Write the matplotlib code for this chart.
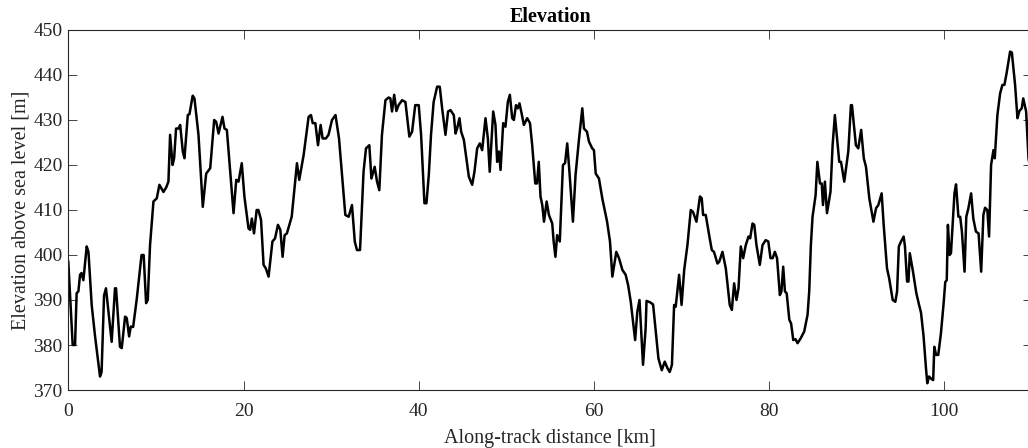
import matplotlib
matplotlib.use("Agg")
import matplotlib.pyplot as plt

distance_km = [
    0.0, 0.5, 0.77, 0.95, 1.15, 1.34, 1.5, 1.72, 2.1, 2.3, 2.67, 3.05, 3.62, 3.8, 4.08, 4.3,
    4.95, 5.33, 5.45, 5.9, 6.1, 6.48, 6.67, 6.94, 7.13, 7.4, 7.8, 8.36, 8.6, 8.88, 9.07, 9.33,
    9.72, 10.1, 10.4, 10.86, 11.17, 11.43, 11.62, 11.9, 12.08, 12.3, 12.57, 12.77, 13.07, 13.26,
    13.64, 13.83, 14.2, 14.4, 14.86, 15.35, 15.74, 15.9, 16.2, 16.65, 16.88, 17.15, 17.6, 17.83,
    18.1, 18.55, 18.86, 19.17, 19.43, 19.8, 20.1, 20.57, 20.76, 20.95, 21.2, 21.5, 21.7, 22.0,
    22.29, 22.55, 22.86, 23.3, 23.6, 23.93, 24.2, 24.46, 24.69, 24.95, 25.5, 26.1, 26.36, 26.86,
    27.43, 27.7, 27.9, 28.2, 28.5, 28.8, 29.03, 29.4, 29.7, 30.1, 30.5, 30.9, 31.24, 31.62, 32.0,
    32.38, 32.7, 32.95, 33.3, 33.7, 33.98, 34.36, 34.6, 34.97, 35.24, 35.5, 35.8, 36.2, 36.57,
    36.76, 36.95, 37.2, 37.45, 37.7, 38.1, 38.48, 38.93, 39.24, 39.6, 40.0, 40.27, 40.65, 40.88,
    41.15, 41.4, 41.7, 42.1, 42.4, 42.67, 43.05, 43.35, 43.62, 44.0, 44.2, 44.38, 44.65, 44.84,
    45.15, 45.72, 46.1, 46.36, 46.67, 46.97, 47.24, 47.62, 47.89, 48.1, 48.5, 48.76, 48.95, 49.15,
    49.34, 49.64, 49.9, 50.17, 50.4, 50.67, 50.86, 51.1, 51.3, 51.5, 51.74, 52.0, 52.38, 52.7,
    52.95, 53.3, 53.5, 53.7, 53.9, 54.1, 54.3, 54.6, 54.86, 55.24, 55.4, 55.6, 55.8, 56.1, 56.46,
    56.7, 56.95, 57.2, 57.6, 57.9, 58.3, 58.67, 58.86, 59.2, 59.43, 59.8, 60.0, 60.2, 60.57, 60.95,
    61.26, 61.5, 61.83, 62.1, 62.55, 62.86, 63.24, 63.62, 63.9, 64.2, 64.7, 64.95, 65.2, 65.6,
    65.9, 66.0, 66.4, 66.75, 67.05, 67.36, 67.74, 68.08, 68.4, 68.65, 68.9, 69.15, 69.33, 69.72,
    70.0, 70.3, 70.67, 71.05, 71.3, 71.7, 72.1, 72.3, 72.46, 72.76, 73.15, 73.45, 73.7, 74.1, 74.3,
    74.67, 75.05, 75.5, 75.74, 76.0, 76.27, 76.5, 76.76, 77.03, 77.33, 77.64, 77.83, 78.1, 78.3,
    78.55, 78.93, 79.24, 79.6, 79.9, 80.15, 80.4, 80.65, 80.9, 81.22, 81.4, 81.6, 81.8, 82.0, 82.3,
    82.5, 82.75, 83.0, 83.24, 83.6, 84.0, 84.38, 84.57, 84.76, 84.95, 85.3, 85.5, 85.8, 86.0,
    86.14, 86.36, 86.6, 87.0, 87.24, 87.5, 88.0, 88.2, 88.57, 89.03, 89.33, 89.45, 89.9, 90.17,
    90.5, 90.8, 91.05, 91.43, 91.9, 92.2, 92.46, 92.84, 93.07, 93.45, 93.7, 94.1, 94.4, 94.6, 94.8,
    95.05, 95.35, 95.5, 95.74, 95.9, 96.05, 96.4, 96.8, 97.1, 97.33, 97.62, 97.9, 98.05, 98.25,
    98.55, 98.72, 98.85, 99.05, 99.3, 99.6, 99.9, 100.1, 100.27, 100.4, 100.6, 100.75, 101.15,
    101.33, 101.6, 101.8, 102.0, 102.3, 102.5, 102.74, 103.05, 103.3, 103.6, 103.9, 104.2, 104.45,
    104.64, 104.9, 105.1, 105.33, 105.6, 105.75, 106.05, 106.36, 106.62, 106.85, 107.1, 107.5,
    107.7, 108.07, 108.34, 108.56, 108.83, 109.0, 109.33, 109.6, 109.9,
]

elevation_m = [
    398.5, 380, 380, 391.5, 391.9, 395.6, 396, 394.4, 401.9, 400.7, 388.9, 382, 373, 374, 391, 392.6,
    380.7, 392.6, 392.6, 379.6, 379.3, 386.3, 386, 381.9, 384.1, 384, 390, 400, 400, 389.3, 390, 402.2,
    411.9, 412.6, 415.6, 414, 415, 416.3, 426.7, 420, 421.5, 428.1, 428.1, 428.9, 423, 421.5,
    431.1, 431.3, 435.4, 434.8, 426.7, 410.7, 418.1, 418.5, 419.3, 430, 429.6, 427, 430.7, 428.1,
    427.8, 416.7, 409.3, 416.7, 416.3, 420.4, 413, 405.9, 405.6, 408.1, 404.8, 410, 410, 407.8,
    397.8, 397, 395.2, 403, 403.7, 406.7, 405.6, 399.6, 404.4, 404.8, 408.5, 420.4, 416.7, 422.2,
    430.7, 431.1, 429.3, 429.3, 424.4, 428.9, 425.9, 425.9, 426.7, 430, 431.1, 425.9, 417.8, 408.9, 408.5,
    411.1, 403, 401.1, 401.1, 418.5, 423.7, 424.4, 417, 419.6, 416.3, 414.4, 426.7, 434.4, 435,
    434.8, 431.9, 435.6, 432, 433.3, 434.4, 434, 426.3, 427.4, 433.3, 433.3, 426.7, 411.5, 411.5,
    417.8, 426.7, 434, 437.4, 437.4, 432.6, 426.7, 431.9, 432.2, 431.1, 427, 428.1, 430.4, 427.4,
    425.6, 417.4, 415.6, 418.5, 423.7, 424.8, 423.3, 430.4, 425.9, 418.5, 431.9, 428.9, 420.7, 423,
    418.9, 429.3, 428.5, 434, 435.6, 430.4, 430, 433.3, 432.6, 433.7, 431.5, 428.9, 430.4, 429.3,
    424.4, 415.9, 415.9, 420.7, 413, 411.1, 407.4, 411.9, 408.9, 407, 403, 399.6, 404.4, 403, 420,
    420.4, 424.8, 418.5, 407.4, 417.8, 425.9, 432.6, 428.1, 427.4, 425.2, 423.7, 423.3, 418.1, 417, 412.6,
    409.6, 407.4, 403, 395.2, 400.7, 399.3, 396.7, 395.6, 393.3, 389.6, 381.1, 387.4, 390, 375.6,
    383.7, 389.8, 389.5, 389, 383, 377, 374.4, 376.3, 374.8, 374, 375.6, 388.9, 388.5, 395.6,
    388.9, 396.7, 402.2, 410, 409.6, 407.4, 413, 412.6, 408.9, 408.9, 404.4, 401.1, 400.7, 398.1, 398.5,
    400.7, 397, 388.9, 387.8, 393.7, 390, 392.6, 401.9, 399.3, 402.2, 404.1, 403.7, 407, 406.7,
    402.2, 397.8, 402.2, 403.3, 403, 399.3, 399.3, 400.7, 399.3, 391.1, 391.9, 397.4, 391.9, 391.5, 385.6,
    384.8, 381.1, 381.3, 380.4, 381.5, 383, 386.7, 391.9, 402.2, 408.5, 413.3, 420.7, 415.9, 415.9,
    411.1, 416.3, 409.3, 414.1, 424.4, 431.1, 420.7, 420.7, 416.3, 423, 433.3, 433.3, 424.4, 423.7,
    427.8, 421.5, 419.6, 412.6, 407.4, 410.4, 411.1, 413.7, 406.7, 397, 394.8, 390, 389.6, 391.9, 401.9,
    403, 404.1, 401.9, 394.1, 394.1, 400.4, 396.5, 391.5, 389, 387.2, 382, 374.8, 371.5, 373,
    372.4, 372.2, 379.6, 377.8, 377.8, 382.5, 389, 394, 394.4, 406.7, 400, 400.4, 413.7,
    415.7, 408.5, 408.5, 405.2, 396.3, 408.5, 410.4, 413.7, 408.1, 405.2, 404.8, 396.3, 408.9,
    410.5, 410, 404.1, 420, 423.3, 421.5, 431.1, 435.9, 437.8, 437.8, 440.4, 445.2,
    445, 437.8, 430.4, 432, 432.6, 434.8, 431.9, 421.5, 418,
]

x_ticks = [0, 20, 40, 60, 80, 100]
y_ticks = [370, 380, 390, 400, 410, 420, 430, 440, 450]

plt.rcParams['font.family'] = ['Liberation Serif', 'DejaVu Serif']

axis_color = (0.15, 0.15, 0.15)

fig = plt.figure(figsize=(10.28, 4.48), dpi=100)
ax = fig.add_axes([68.3 / 1028, 1 - 390 / 448, (1032 - 68.3) / 1028, 360 / 448])

ax.plot(distance_km, elevation_m, color='black', linewidth=1.8)

ax.set_xlim(0, 110)
ax.set_ylim(370, 450)
ax.set_xticks(x_ticks)
ax.set_yticks(y_ticks)

ax.tick_params(direction='in', length=6.5, width=0.6, top=True, right=True,
               labelsize=14, colors=axis_color)
ax.tick_params(axis='x', pad=9)
ax.tick_params(axis='y', pad=4)
for s in ax.spines.values():
    s.set_color(axis_color)
    s.set_linewidth(0.8)

ax.set_xlabel('Along-track distance [km]', fontsize=14.5, color=axis_color, labelpad=7)
ax.set_ylabel('Elevation above sea level [m]', fontsize=14.5, color=axis_color, labelpad=2)
ax.set_title('Elevation', fontsize=14.5, fontweight='bold', color='black', pad=6)

fig.savefig('out.png', dpi=100)
